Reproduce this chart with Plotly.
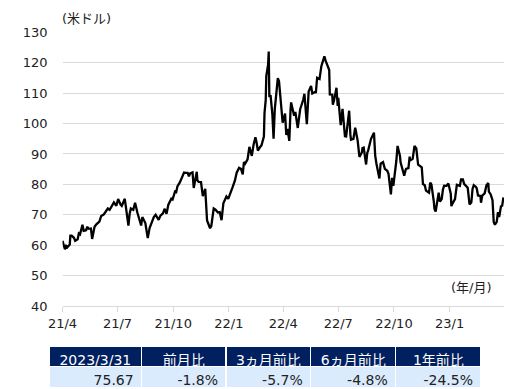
import plotly.graph_objects as go

dates = [
"2021-04-01","2021-04-05","2021-04-07","2021-04-09","2021-04-13","2021-04-14","2021-04-16","2021-04-20","2021-04-22","2021-04-26","2021-04-28","2021-04-30",
"2021-05-04","2021-05-06","2021-05-10","2021-05-12","2021-05-14","2021-05-18","2021-05-20","2021-05-24","2021-05-27",
"2021-06-01","2021-06-04","2021-06-08","2021-06-11","2021-06-15","2021-06-18","2021-06-23","2021-06-25","2021-06-29",
"2021-07-02","2021-07-06","2021-07-08","2021-07-13","2021-07-15","2021-07-19","2021-07-21","2021-07-23","2021-07-27","2021-07-30",
"2021-08-03","2021-08-06","2021-08-09","2021-08-11","2021-08-16","2021-08-19","2021-08-20","2021-08-23","2021-08-26","2021-08-30",
"2021-09-02","2021-09-07","2021-09-10","2021-09-14","2021-09-17","2021-09-20","2021-09-23","2021-09-28","2021-09-30",
"2021-10-04","2021-10-06","2021-10-08","2021-10-12","2021-10-15","2021-10-19","2021-10-22","2021-10-25","2021-10-27","2021-10-29",
"2021-11-02","2021-11-04","2021-11-09","2021-11-10","2021-11-12","2021-11-16","2021-11-19","2021-11-23","2021-11-26","2021-11-30",
"2021-12-01","2021-12-03","2021-12-07","2021-12-10","2021-12-14","2021-12-17","2021-12-20","2021-12-23","2021-12-28","2021-12-31",
"2022-01-04","2022-01-07","2022-01-11","2022-01-14","2022-01-18","2022-01-21","2022-01-24","2022-01-26","2022-01-28",
"2022-02-01","2022-02-04","2022-02-08","2022-02-11","2022-02-14","2022-02-16","2022-02-18","2022-02-22","2022-02-24","2022-02-28",
"2022-03-01","2022-03-03","2022-03-04","2022-03-07","2022-03-08","2022-03-09","2022-03-11","2022-03-14","2022-03-15","2022-03-16","2022-03-18","2022-03-21","2022-03-23","2022-03-25","2022-03-28","2022-03-29","2022-03-31",
"2022-04-04","2022-04-06","2022-04-08","2022-04-11","2022-04-13","2022-04-14","2022-04-19","2022-04-21","2022-04-25","2022-04-27","2022-04-29",
"2022-05-04","2022-05-06","2022-05-10","2022-05-12","2022-05-13","2022-05-17","2022-05-19","2022-05-23","2022-05-25","2022-05-27","2022-05-31",
"2022-06-03","2022-06-08","2022-06-10","2022-06-14","2022-06-16","2022-06-17","2022-06-21","2022-06-22","2022-06-24","2022-06-28","2022-06-30",
"2022-07-01","2022-07-05","2022-07-08","2022-07-12","2022-07-14","2022-07-15","2022-07-19","2022-07-21","2022-07-22","2022-07-26","2022-07-29",
"2022-08-02","2022-08-05","2022-08-09","2022-08-10","2022-08-12","2022-08-16","2022-08-18","2022-08-19","2022-08-24","2022-08-29","2022-08-31",
"2022-09-02","2022-09-07","2022-09-09","2022-09-13","2022-09-16","2022-09-20","2022-09-22","2022-09-26","2022-09-28","2022-09-30",
"2022-10-03","2022-10-05","2022-10-07","2022-10-11","2022-10-12","2022-10-14","2022-10-18","2022-10-20","2022-10-21","2022-10-25","2022-10-27","2022-10-28",
"2022-11-01","2022-11-04","2022-11-07","2022-11-10","2022-11-14","2022-11-16","2022-11-18","2022-11-21","2022-11-23","2022-11-28","2022-11-30",
"2022-12-02","2022-12-06","2022-12-07","2022-12-09","2022-12-13","2022-12-14","2022-12-16","2022-12-19","2022-12-21","2022-12-23","2022-12-27","2022-12-30",
"2023-01-03","2023-01-04","2023-01-06","2023-01-10","2023-01-13","2023-01-18","2023-01-20","2023-01-23","2023-01-25","2023-01-27","2023-01-31",
"2023-02-03","2023-02-06","2023-02-08","2023-02-10","2023-02-14","2023-02-15","2023-02-17","2023-02-21","2023-02-22","2023-02-24","2023-02-28",
"2023-03-03","2023-03-06","2023-03-07","2023-03-10","2023-03-13","2023-03-15","2023-03-17","2023-03-20","2023-03-22","2023-03-24","2023-03-27","2023-03-29","2023-03-31",
]

prices = [
61.45,58.65,59.77,59.32,60.18,63.15,63.13,62.44,61.43,61.91,63.86,63.58,
66.69,64.71,64.92,66.08,65.37,65.49,62.05,66.05,66.85,
67.72,69.62,70.05,70.91,72.12,71.64,73.08,74.05,72.98,
75.16,73.37,72.94,75.25,71.65,66.42,70.30,72.07,71.65,73.95,
70.56,68.28,66.48,69.25,67.29,63.50,62.32,65.64,67.42,69.21,
69.99,68.35,69.72,70.46,71.97,70.29,73.30,75.29,75.03,
77.62,77.43,79.35,80.64,82.28,83.87,83.76,83.76,82.66,83.57,
83.91,78.81,84.15,81.34,80.79,80.76,76.10,78.50,68.15,66.18,
65.57,66.26,72.05,71.67,70.73,70.86,68.23,73.79,75.98,75.21,
76.99,78.90,81.22,83.82,85.43,85.14,83.31,87.35,86.82,
88.20,92.31,89.36,93.10,95.46,93.66,91.07,92.35,92.81,95.72,
103.41,107.67,115.68,119.40,123.70,108.70,109.33,103.01,96.44,95.04,104.70,112.12,114.93,113.90,105.96,104.24,100.28,
103.28,96.23,98.26,94.29,104.25,106.95,102.56,103.79,98.54,102.02,104.69,
107.81,109.77,99.76,106.13,110.49,112.40,109.89,110.29,110.33,115.07,114.67,
118.87,122.11,120.67,118.93,117.59,109.56,109.52,106.19,107.62,111.76,105.76,
108.43,99.50,104.79,95.84,95.78,97.59,104.22,96.35,94.70,94.98,98.62,
94.42,89.01,90.50,91.93,92.09,86.53,90.50,90.77,94.89,97.01,89.55,
86.87,81.94,86.79,87.31,85.11,84.45,83.49,76.71,82.15,79.49,
83.63,87.76,92.64,89.35,87.27,85.61,82.82,84.51,85.05,85.32,89.08,87.90,
88.37,92.61,91.79,86.47,85.87,85.59,80.08,79.73,77.94,77.24,80.55,
79.98,74.25,72.01,71.02,75.39,77.28,74.29,75.19,78.29,79.56,79.53,80.26,
76.93,72.84,73.77,75.12,79.86,79.48,81.64,81.62,80.15,79.68,78.87,
73.39,74.11,78.47,79.72,79.06,78.59,76.34,76.16,73.95,76.32,77.05,
79.68,80.46,77.58,76.68,74.80,67.61,66.74,67.64,70.90,69.26,72.81,72.97,75.67,
]

tick_dates = ["2021-04-01","2021-07-01","2021-10-01","2022-01-01","2022-04-01","2022-07-01","2022-10-01","2023-01-01"]
tick_labels = ["21/4","21/7","21/10","22/1","22/4","22/7","22/10","23/1"]
y_ticks = [40,50,60,70,80,90,100,110,120,130]

table_header = ["2023/3/31","前月比","3ヵ月前比","6ヵ月前比","1年前比"]
table_values = ["75.67","-1.8%","-5.7%","-4.8%","-24.5%"]

W, H = 529, 389
FONT = "DejaVu Sans, Verdana, Noto Sans CJK JP, sans-serif"
TXT = "#222222"
GRID = "#d9d9d9"

fig = go.Figure()
fig.add_trace(go.Scatter(x=dates, y=prices, mode="lines",
                         line=dict(color="#000000", width=2.3), hoverinfo="skip",
                         showlegend=False))

fig.add_trace(go.Table(
    domain=dict(x=[49/W, 481/W], y=[0, 1-346.5/H]),
    columnwidth=[92.7, 84.3, 84.7, 85, 85.3],
    header=dict(values=table_header, fill_color="#002060",
                font=dict(color="white", size=14, family=FONT),
                align="center", height=20, line=dict(color="white", width=1.5)),
    cells=dict(values=[[v] for v in table_values], fill_color="#d9ebfc",
               font=dict(color=TXT, size=14, family=FONT),
               align="right", height=21, line=dict(color="white", width=1.5)),
))

fig.update_layout(
    width=W, height=H,
    margin=dict(l=0, r=0, t=0, b=0, autoexpand=False),
    paper_bgcolor="white", plot_bgcolor="white",
    font=dict(family=FONT, size=13, color=TXT),
    xaxis=dict(domain=[62.5/W, 504/W], range=["2021-04-01", "2023-04-01"],
               type="date", tickvals=tick_dates, ticktext=tick_labels,
               showgrid=False, showline=True, linecolor=GRID, linewidth=1,
               ticks="outside", ticklen=5, tickcolor=GRID, tickwidth=1,
               tickfont=dict(size=13, color=TXT), zeroline=False, automargin=False),
    yaxis=dict(domain=[1-306/H, 1-32.3/H], range=[40, 130], tickvals=y_ticks,
               showgrid=True, gridcolor=GRID, gridwidth=1, zeroline=False,
               showline=False, ticks="", ticklabelstandoff=14,
               tickfont=dict(size=13, color=TXT), automargin=False),
    annotations=[
        dict(text="(米ドル)", x=60/W, y=1-18/H, xref="paper", yref="paper",
             xanchor="left", yanchor="middle", showarrow=False,
             font=dict(size=13, color=TXT, family=FONT)),
        dict(text="(年/月)", x=494/W, y=1-287/H, xref="paper", yref="paper",
             xanchor="right", yanchor="middle", showarrow=False,
             font=dict(size=13, color=TXT, family=FONT)),
    ],
)

fig.write_html("out.html", config={"displayModeBar": False},
               post_script="document.body.style.margin='0';document.body.style.padding='0';document.body.style.overflow='hidden';")
